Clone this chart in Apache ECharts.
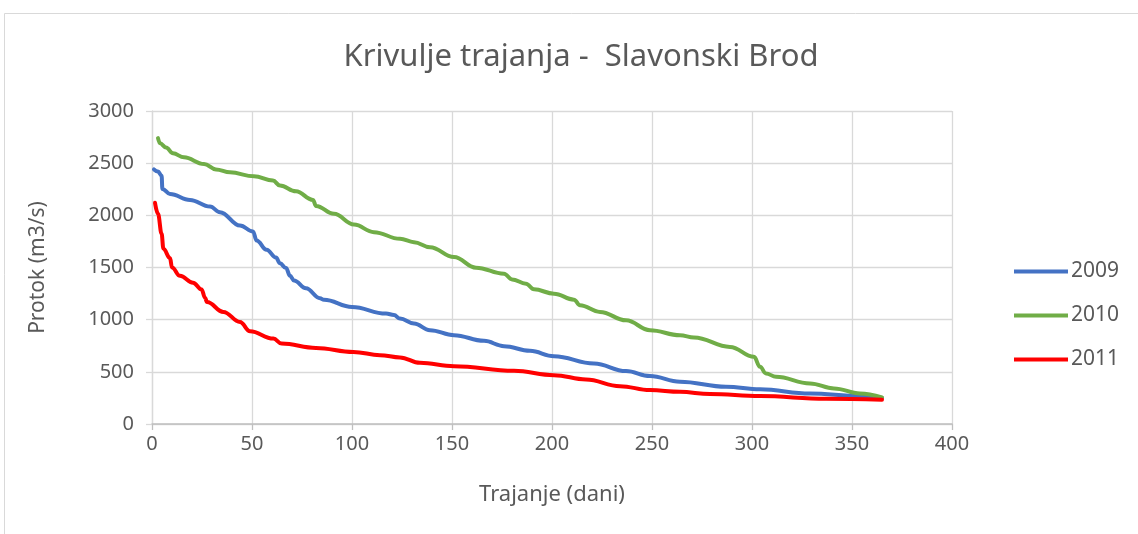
<!DOCTYPE html>
<html>
<head>
<meta charset="utf-8">
<script src="https://cdn.jsdelivr.net/npm/echarts@6/dist/echarts.min.js"></script>
<style>
  html, body { margin: 0; padding: 0; background: #ffffff; }
  #chart { width: 1138px; height: 534px; }
</style>
</head>
<body>
<div id="chart"></div>
<script>
// Flow-duration curves, Slavonski Brod: days of duration vs. discharge (m3/s)
const seriesNames = ['2009', '2010', '2011'];

const days2009 = [1, 3, 4.8, 5.2, 9, 19, 29, 34, 44, 50.5, 52.3, 57.3, 62, 64, 67, 69, 71, 77, 84, 86, 100, 117, 121, 124, 131, 139, 151, 166, 176, 189, 201, 221, 237, 249, 264, 287, 304, 329, 354, 365];
const flow2009 = [2440, 2420, 2380, 2253, 2205, 2148, 2084, 2030, 1902, 1845, 1759, 1670, 1595, 1540, 1495, 1420, 1375, 1300, 1205, 1190, 1121, 1058, 1045, 1010, 963, 899, 851, 797, 746, 701, 650, 580, 507, 459, 405, 357, 332, 293, 268, 250];

const days2010 = [3, 4, 7, 10.5, 16, 26, 32, 39, 51, 60.5, 64, 72, 80.5, 82, 91, 101, 111, 124, 131, 139, 151, 162, 176, 180, 187, 191, 201, 211, 214, 224, 237, 249, 264, 271, 289, 301, 304, 307, 312, 329, 341, 354, 365];
const flow2010 = [2740, 2690, 2650, 2594, 2556, 2492, 2440, 2412, 2374, 2333, 2285, 2230, 2148, 2090, 2014, 1912, 1839, 1775, 1743, 1695, 1600, 1498, 1440, 1386, 1345, 1291, 1249, 1192, 1138, 1074, 994, 899, 851, 829, 739, 644, 548, 485, 452, 389, 341, 293, 255];

const days2011 = [1.5, 3, 4.8, 5.7, 9, 10, 14, 20.5, 24.8, 26.5, 27.5, 35.7, 44, 49, 60.7, 64.8, 82, 100.7, 114, 124, 134, 151, 181, 201, 217, 234, 249, 264, 279, 304, 337, 365];
const flow2011 = [2120, 2014, 1823, 1680, 1590, 1500, 1420, 1355, 1290, 1210, 1169, 1074, 978, 889, 819, 771, 729, 691, 660, 638, 586, 554, 510, 468, 427, 363, 325, 309, 287, 268, 242, 232];

const xTicks = [0, 50, 100, 150, 200, 250, 300, 350, 400];
const yTicks = [0, 500, 1000, 1500, 2000, 2500, 3000];

const colors = ['#4472C4', '#70AD47', '#FF0000'];
const textColor = '#595959';
const fontFamily = '"Noto Sans", "Open Sans", sans-serif';

const pairs = (xs, ys) => xs.map((x, i) => [x, ys[i]]);
const seriesData = [pairs(days2009, flow2009), pairs(days2010, flow2010), pairs(days2011, flow2011)];

const chart = echarts.init(document.getElementById('chart'), null, { renderer: 'canvas' });

chart.setOption({
  backgroundColor: '#ffffff',
  animation: false,
  color: colors,
  textStyle: { fontFamily: fontFamily, color: textColor },
  graphic: [{
    type: 'rect',
    silent: true,
    shape: { x: 4.5, y: 13.5, width: 1300, height: 700 },
    style: { fill: 'none', stroke: '#d9d9d9', lineWidth: 1 }
  }],
  title: {
    text: 'Krivulje trajanja -  Slavonski Brod',
    left: 576,
    textAlign: 'center',
    top: 37,
    textStyle: { fontFamily: fontFamily, fontSize: 31, fontWeight: 'normal', color: textColor }
  },
  legend: {
    orient: 'vertical',
    left: 1009,
    top: 256,
    itemWidth: 54,
    itemHeight: 22,
    itemGap: 23,
    icon: 'path://M0,0 L54,0 L54,4 L0,4 Z',
    data: seriesNames,
    textStyle: { fontFamily: fontFamily, fontSize: 21, color: textColor, padding: [0, 0, 0, -2] }
  },
  grid: { left: 152, right: 186, top: 111, bottom: 110, containLabel: false },
  xAxis: {
    type: 'value',
    min: xTicks[0],
    max: xTicks[xTicks.length - 1],
    interval: 50,
    name: 'Trajanje (dani)',
    nameLocation: 'middle',
    nameGap: 60,
    nameTextStyle: { fontFamily: fontFamily, fontSize: 22, color: textColor },
    axisLine: { show: true, lineStyle: { color: '#bfbfbf', width: 1.5 } },
    axisTick: { show: true, length: 6, lineStyle: { color: '#bfbfbf', width: 1.3 } },
    axisLabel: { fontFamily: fontFamily, fontSize: 20, color: textColor, margin: 10 },
    splitLine: { show: true, lineStyle: { color: '#d9d9d9', width: 1.3 } }
  },
  yAxis: {
    type: 'value',
    min: yTicks[0],
    max: yTicks[yTicks.length - 1],
    interval: 500,
    name: 'Protok (m3/s)',
    nameLocation: 'middle',
    nameGap: 103,
    nameTextStyle: { fontFamily: fontFamily, fontSize: 21, color: textColor },
    axisLine: { show: true, lineStyle: { color: '#d9d9d9', width: 1.3 } },
    axisTick: { show: true, length: 6, lineStyle: { color: '#d9d9d9', width: 1.3 } },
    axisLabel: {
      fontFamily: fontFamily, fontSize: 20, color: textColor, margin: 18,
      formatter: (v) => String(v)
    },
    splitLine: { show: true, lineStyle: { color: '#d9d9d9', width: 1.3 } }
  },
  series: seriesNames.map((name, i) => ({
    name: name,
    type: 'line',
    data: seriesData[i],
    showSymbol: false,
    symbol: 'none',
    smooth: 0.4,
    smoothMonotone: 'x',
    lineStyle: { width: 4, color: colors[i], cap: 'round', join: 'round' },
    itemStyle: { color: colors[i] },
    z: 2 + i
  }))
});
</script>
</body>
</html>
